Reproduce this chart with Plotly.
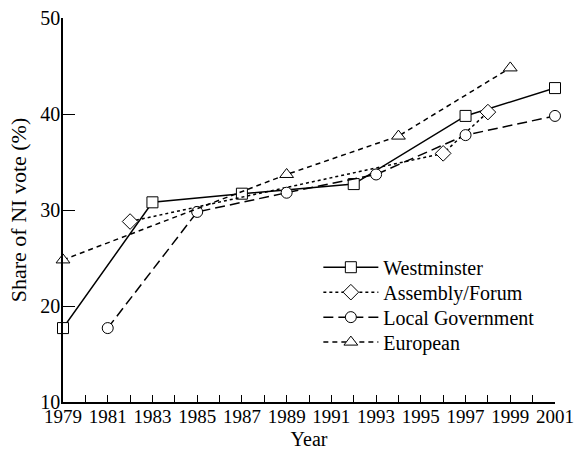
import plotly.graph_objects as go

# Data
west_years = [1979, 1983, 1987, 1992, 1997, 2001]
west_vals = [17.7, 30.8, 31.7, 32.7, 39.8, 42.7]

assembly_years = [1982, 1996, 1998]
assembly_vals = [28.8, 35.9, 40.2]

local_years = [1981, 1985, 1989, 1993, 1997, 2001]
local_vals = [17.7, 29.8, 31.8, 33.7, 37.8, 39.8]

euro_years = [1979, 1989, 1994, 1999]
euro_vals = [24.8, 33.7, 37.7, 44.8]

x_tick_vals = list(range(1979, 2002, 2))
y_tick_vals = [10, 20, 30, 40, 50]

FONT = "Liberation Serif, Times New Roman, serif"

fig = go.Figure()

def add(name, xs, ys, dash, symbol, size, legend):
    fig.add_trace(go.Scatter(
        x=xs, y=ys, name=name, mode="lines+markers",
        line=dict(color="black", width=1.5, dash=dash),
        marker=dict(symbol=symbol, size=size, color="white",
                    line=dict(color="black", width=1)),
        cliponaxis=False, legend=legend,
    ))

add("Westminster", west_years, west_vals, "solid", "square", 11, "legend")
add("Assembly/Forum", assembly_years, assembly_vals, "dot", "diamond", 12, "legend2")
add("Local Government", local_years, local_vals, "10px,5px", "circle", 11, "legend3")
add("European", euro_years, euro_vals, "5px,4px", "triangle-up", 12, "legend4")

def leg(y):
    return dict(x=0.519, y=y, xanchor="left", yanchor="middle",
                bgcolor="rgba(0,0,0,0)", font=dict(size=20),
                itemwidth=55)

fig.update_layout(
    width=574, height=450,
    margin=dict(l=63, r=19, t=18, b=48),
    paper_bgcolor="white", plot_bgcolor="white",
    font=dict(family=FONT, size=20, color="black"),
    showlegend=True,
    legend=leg(0.351),
    legend2=leg(0.286),
    legend3=leg(0.221),
    legend4=leg(0.156),
    xaxis=dict(
        range=[1979, 2001], tickvals=x_tick_vals,
        ticks="inside", ticklen=7, tickwidth=1, tickcolor="black",
        minor=dict(dtick=1, tick0=1979, ticks="inside", ticklen=7, tickcolor="black", tickwidth=1),
        showline=True, linecolor="black", linewidth=1.5,
        showgrid=False, zeroline=False, automargin=False,
        ticklabeloverflow="allow", ticklabelstandoff=-4,
        tickfont=dict(size=19),
        title=dict(text="Year", standoff=8, font=dict(size=20)),
    ),
    yaxis=dict(
        range=[10, 50], tickvals=y_tick_vals,
        ticks="inside", ticklen=12, tickwidth=1, tickcolor="black",
        showline=True, linecolor="black", linewidth=1.5,
        showgrid=False, zeroline=False, automargin=False,
        ticklabeloverflow="allow", ticklabelstandoff=-3,
        title=dict(text="Share of NI vote (%)", standoff=8, font=dict(size=22)),
    ),
)

fig.write_html(
    "out.html",
    config={"displayModeBar": False},
    post_script="document.body.style.margin='0';document.body.style.overflow='hidden';",
)
